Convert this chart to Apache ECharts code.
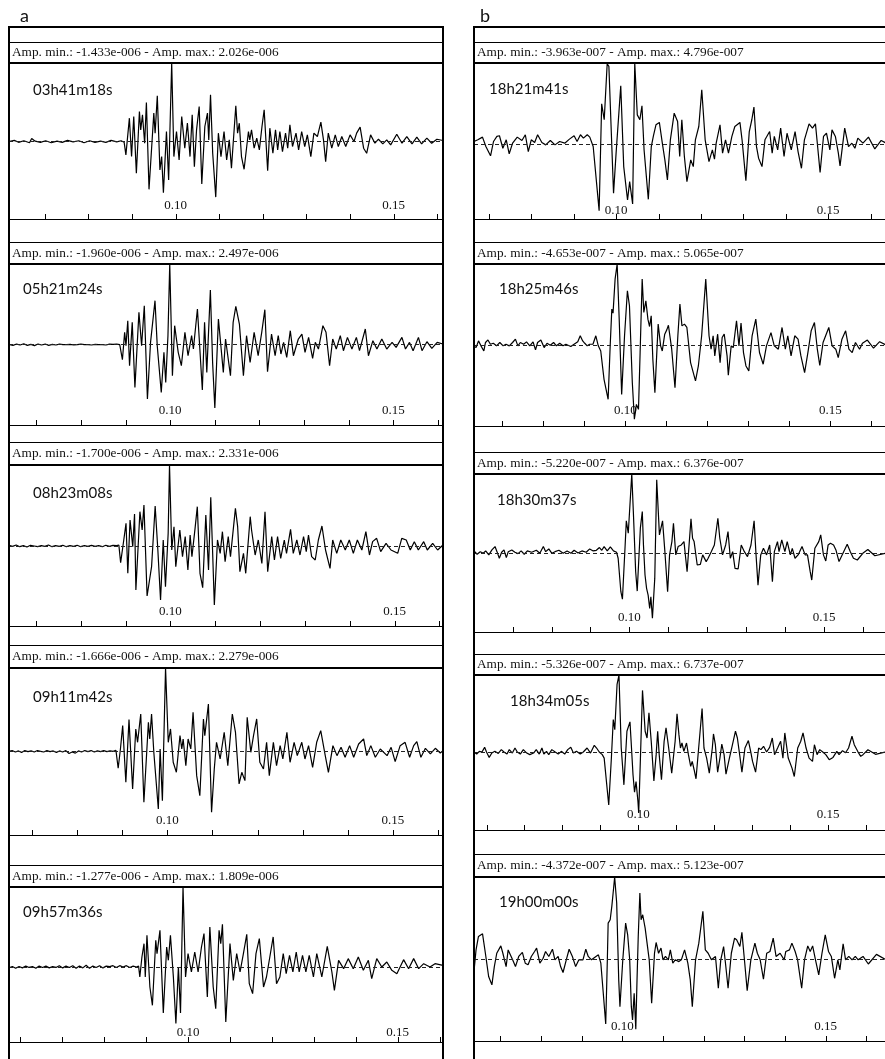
<!DOCTYPE html>
<html>
<head>
<meta charset="utf-8">
<script src="https://cdn.jsdelivr.net/npm/echarts@6/dist/echarts.min.js"></script>
<style>
  html, body { margin: 0; padding: 0; background: #fff; overflow: hidden; }
  #chart { width: 885px; height: 1059px; }
</style>
</head>
<body>
<div id="chart"></div>
<script>
// Amplitudes of the traces are stored in units of 1e-7; time in seconds.
const AMP_UNIT = 1e-7;

// ---- column a ----
const stampsA = ['03h41m18s', '05h21m24s', '08h23m08s', '09h11m42s', '09h57m36s'];
const ampMinA = [-1.433e-6, -1.960e-6, -1.700e-6, -1.666e-6, -1.277e-6];
const ampMaxA = [2.026e-6, 2.497e-6, 2.331e-6, 2.279e-6, 1.809e-6];
const timeMinA = [0.0618, 0.0639, 0.0640, 0.0649, 0.0573];
const timeMaxA = [0.1613, 0.1611, 0.1608, 0.1611, 0.1608];
const ampFloorA = [-19.98, -24.85, -23.02, -22.90, -16.96];

// ---- column b ----
const stampsB = ['18h21m41s', '18h25m46s', '18h30m37s', '18h34m05s', '19h00m00s'];
const ampMinB = [-3.963e-7, -4.653e-7, -5.220e-7, -5.326e-7, -4.372e-7];
const ampMaxB = [4.796e-7, 5.065e-7, 6.376e-7, 6.737e-7, 5.123e-7];
const timeMinB = [0.0665, 0.0631, 0.0601, 0.0567, 0.0635];
const timeMaxB = [0.1634, 0.1633, 0.1656, 0.1650, 0.1646];
const ampFloorB = [-4.457, -5.08, -6.33, -6.82, -5.10];

// time axis ticks
const tickValues = [0.06, 0.07, 0.08, 0.09, 0.10, 0.11, 0.12, 0.13, 0.14, 0.15, 0.16];
const tickLabelValues = [0.10, 0.15];

// ---- traces: [time, amplitude] ----
const w0341 = [[0.0618,0.0],[0.0630,0.3],[0.0640,-0.2],[0.0652,0.2],[0.0665,-0.3],[0.0670,0.8],[0.0678,0.1],[0.0690,-0.2],[0.0702,0.2],[0.0715,-0.3],[0.0728,0.1],[0.0740,-0.2],[0.0752,0.3],[0.0765,-0.1],[0.0778,0.2],[0.0790,-0.3],[0.0803,0.2],[0.0815,-0.2],[0.0828,0.1],[0.0840,-0.2],[0.0852,0.3],[0.0865,-0.1],[0.0875,0.2],[0.0882,-0.2],
[0.0886,-3.45],[0.0894,6.03],[0.0899,-3.88],[0.0904,6.47],[0.0910,-8.19],[0.0917,7.76],[0.0920,3.0],[0.0924,6.90],[0.0929,-0.43],[0.0933,10.09],[0.0939,-12.33],[0.0950,7.33],[0.0953,2.16],[0.0958,11.81],[0.0964,-7.33],[0.0968,-3.88],[0.0972,-13.19],[0.0979,2.59],[0.0984,-9.91],[0.0991,20.26],[0.0996,-3.88],[0.1002,2.59],[0.1008,-4.74],[0.1014,6.47],[0.1021,-1.72],[0.1027,4.74],[0.1033,-3.88],[0.1038,6.90],[0.1043,-6.47],[0.1048,3.02],[0.1054,9.05],[0.1060,-10.95],[0.1067,3.88],[0.1073,7.33],[0.1076,0.43],[0.1080,12.07],[0.1085,-3.02],[0.1092,-14.33],[0.1098,2.16],[0.1104,-3.88],[0.1111,2.59],[0.1117,-4.74],[0.1123,0.43],[0.1128,-6.90],[0.1138,9.22],[0.1142,2.16],[0.1146,4.74],[0.1151,-3.88],[0.1157,-7.15],[0.1167,2.59],[0.1170,0.43],[0.1174,3.02],[0.1180,-1.72],[0.1186,0.86],[0.1192,-2.16],[0.1198,3.88],[0.1203,8.19],[0.1211,-7.50],[0.1216,3.45],[0.1223,-3.02],[0.1229,3.02],[0.1234,-2.16],[0.1239,2.59],[0.1245,-2.59],[0.1252,2.16],[0.1257,-1.72],[0.1262,4.31],[0.1268,-1.29],[0.1276,2.16],[0.1282,-2.16],[0.1289,2.59],[0.1296,-1.29],[0.1302,1.72],[0.1310,-3.88],[0.1317,2.16],[0.1325,1.29],[0.1333,5.00],[0.1339,0.43],[0.1344,-5.17],[0.1350,2.16],[0.1358,-1.72],[0.1366,1.72],[0.1373,-1.29],[0.1381,1.29],[0.1390,-1.29],[0.1400,1.72],[0.1409,0],[0.1415,2.16],[0.1423,3.71],[0.1431,-1.72],[0.1438,-3.02],[0.1447,1.72],[0.1457,-0.43],[0.1465,0.6],[0.1475,-0.6],[0.1484,0.43],[0.1493,-0.86],[0.1507,1.9],[0.1519,-0.43],[0.1530,1.29],[0.1542,-0.6],[0.1553,1.12],[0.1564,-0.6],[0.1576,0.86],[0.1587,-0.43],[0.1599,0.6],[0.1613,0.26]];

const w0521 = [[0.0639,0.1],[0.0648,-0.2],[0.0656,0.2],[0.0664,-0.1],[0.0672,0.3],[0.0680,-0.2],[0.0688,0.1],[0.0696,-0.3],[0.0704,0.2],[0.0712,-0.1],[0.0720,0.2],[0.0728,-0.2],[0.0736,0.1],[0.0744,-0.1],[0.0752,0.2],[0.0760,0],[0.0768,0],[0.0776,0.1],[0.0784,-0.1],[0.0792,0],[0.0800,0.2],[0.0808,0],[0.0816,0],[0.0824,-0.1],[0.0832,0.1],[0.0840,0],[0.0848,0],[0.0856,-0.1],[0.0864,0.2],[0.0872,0.1],[0.0880,0.2],[0.0887,0],
[0.0893,-4.64],[0.0898,3.82],[0.0901,-0.31],[0.0905,7.43],[0.0909,-6.50],[0.0915,6.91],[0.0921,-13.21],[0.0930,10.01],[0.0936,-0.31],[0.0942,12.07],[0.0949,-16.82],[0.0956,0.72],[0.0966,13.62],[0.0971,-0.31],[0.0980,-14.76],[0.0986,-2.37],[0.0990,-11.66],[0.0995,2.79],[0.0999,24.97],[0.1005,-9.60],[0.1010,5.88],[0.1018,-2.37],[0.1025,-6.50],[0.1033,3.82],[0.1040,-3.41],[0.1048,2.79],[0.1052,-1.34],[0.1061,11.04],[0.1072,-14.04],[0.1077,6.91],[0.1082,-8.57],[0.1090,16.92],[0.1095,-5.47],[0.1100,-19.60],[0.1108,7.95],[0.1119,-8.57],[0.1124,1.75],[0.1135,-9.60],[0.1141,6.91],[0.1147,11.87],[0.1155,6.40],[0.1164,-9.60],[0.1171,2.79],[0.1179,-5.47],[0.1188,3.82],[0.1197,-3.41],[0.1205,3.82],[0.1212,10.84],[0.1218,-8.36],[0.1227,3.30],[0.1235,-3.41],[0.1242,2.79],[0.1248,-2.89],[0.1254,0.72],[0.1261,-3.92],[0.1269,4.33],[0.1276,-3.41],[0.1287,1.75],[0.1295,3.30],[0.1302,-2.37],[0.1310,2.27],[0.1319,-4.23],[0.1325,0.72],[0.1332,-1.34],[0.1342,5.88],[0.1349,3.82],[0.1357,-6.50],[0.1364,1.75],[0.1372,-1.34],[0.1381,2.79],[0.1388,-1.86],[0.1397,2.27],[0.1407,-1.34],[0.1417,2.27],[0.1424,-1.86],[0.1437,4.85],[0.1444,-3.41],[0.1454,1.24],[0.1463,-1.34],[0.1474,1.75],[0.1485,-1.34],[0.1497,0.72],[0.1506,-0.83],[0.1519,2.27],[0.1527,-1.34],[0.1536,0.72],[0.1544,-1.86],[0.1556,2.27],[0.1564,-1.86],[0.1575,0.93],[0.1586,-1.14],[0.1598,0.72],[0.1611,0.21]];

const w0823 = [[0.0640,0.2],[0.0648,-0.1],[0.0656,0.3],[0.0664,-0.2],[0.0672,0.1],[0.0680,-0.3],[0.0688,0.2],[0.0696,0],[0.0704,-0.2],[0.0712,0.1],[0.0720,-0.1],[0.0728,0.3],[0.0736,-0.2],[0.0744,0.1],[0.0752,-0.1],[0.0760,0.2],[0.0768,-0.2],[0.0776,0.1],[0.0784,-0.1],[0.0792,0.2],[0.0800,-0.2],[0.0808,0.1],[0.0816,-0.1],[0.0824,0.2],[0.0832,-0.1],[0.0840,0.1],[0.0848,-0.2],[0.0856,0.2],[0.0864,-0.1],[0.0872,0.2],[0.0880,0.1],[0.0885,0.3],
[0.0889,-4.80],[0.0896,1.73],[0.0901,6.52],[0.0905,-7.86],[0.0910,7.48],[0.0916,-0.19],[0.0920,9.21],[0.0923,-12.66],[0.0932,9.88],[0.0937,4.60],[0.0941,11.80],[0.0948,-14.39],[0.0958,-5.95],[0.0966,11.51],[0.0972,-1.15],[0.0978,-15.54],[0.0984,1.73],[0.0989,-11.70],[0.0995,3.64],[0.0998,23.31],[0.1003,-1.15],[0.1008,5.56],[0.1012,-5.95],[0.1021,4.60],[0.1027,-3.07],[0.1033,2.69],[0.1039,-6.90],[0.1044,3.16],[0.1048,-3.07],[0.1055,5.08],[0.1060,11.32],[0.1066,-7.86],[0.1072,-11.99],[0.1079,8.92],[0.1085,-6.90],[0.1090,14.00],[0.1094,-1.15],[0.1098,-17.00],[0.1105,1.73],[0.1111,-2.11],[0.1116,4.12],[0.1122,-4.51],[0.1129,2.69],[0.1134,-3.07],[0.1145,10.84],[0.1150,5.56],[0.1155,-7.38],[0.1163,-2.11],[0.1168,-7.86],[0.1178,8.44],[0.1181,4.60],[0.1189,-2.59],[0.1196,1.73],[0.1204,-4.99],[0.1211,9.88],[0.1217,-7.38],[0.1226,2.69],[0.1232,-4.03],[0.1239,2.69],[0.1246,-3.55],[0.1254,1.73],[0.1259,-2.11],[0.1268,4.80],[0.1274,-2.11],[0.1282,1.73],[0.1289,-2.59],[0.1297,2.69],[0.1303,-1.63],[0.1308,3.16],[0.1315,-3.07],[0.1323,-4.03],[0.1330,1.73],[0.1338,5.75],[0.1346,-1.15],[0.1356,-6.43],[0.1362,1.73],[0.1371,-2.11],[0.1380,1.73],[0.1390,-1.15],[0.1399,1.73],[0.1408,-2.11],[0.1417,1.73],[0.1427,-1.15],[0.1436,4.12],[0.1444,-2.59],[0.1451,1.25],[0.1460,2.21],[0.1469,-1.63],[0.1481,0.77],[0.1492,-1.15],[0.1507,-2.11],[0.1516,2.21],[0.1526,1.73],[0.1535,-1.15],[0.1544,1.25],[0.1553,-1.15],[0.1565,1.25],[0.1573,-1.15],[0.1585,0.77],[0.1596,-1.15],[0.1608,0.29]];

const w0911 = [[0.0649,0],[0.0656,0.2],[0.0663,-0.2],[0.0670,0.1],[0.0677,-0.3],[0.0684,0.2],[0.0691,-0.1],[0.0698,0.1],[0.0705,-0.2],[0.0712,0.2],[0.0719,0],[0.0726,-0.2],[0.0733,0.2],[0.0740,-0.1],[0.0747,0.1],[0.0754,-0.3],[0.0761,0.1],[0.0768,-0.2],[0.0775,0.2],[0.0782,-0.6],[0.0789,-0.2],[0.0796,-0.5],[0.0803,0.1],[0.0810,-0.2],[0.0817,0.2],[0.0824,-0.1],[0.0831,0.2],[0.0838,-0.2],[0.0845,0.1],[0.0852,-0.1],[0.0859,0.2],[0.0866,-0.1],[0.0873,0.1],[0.0880,0],[0.0886,0.3],
[0.0891,-4.65],[0.0896,0.64],[0.0901,7.02],[0.0908,-8.48],[0.0915,8.66],[0.0923,-10.31],[0.0930,6.11],[0.0934,2.46],[0.0941,10.21],[0.0948,-13.95],[0.0958,7.93],[0.0961,3.37],[0.0965,10.21],[0.0970,-0.27],[0.0980,-15.78],[0.0984,0.64],[0.0989,-13.50],[0.0996,22.79],[0.1002,2.46],[0.1007,6.11],[0.1013,-3.01],[0.1020,-5.75],[0.1028,4.29],[0.1032,0.64],[0.1035,3.37],[0.1041,-3.92],[0.1046,3.37],[0.1052,0.64],[0.1057,10.67],[0.1065,-6.66],[0.1072,-12.13],[0.1080,8.85],[0.1083,4.29],[0.1091,12.95],[0.1098,-16.66],[0.1104,-4.83],[0.1109,2.46],[0.1117,-2.10],[0.1126,5.20],[0.1134,-3.92],[0.1144,10.21],[0.1151,5.20],[0.1159,-8.94],[0.1165,-5.75],[0.1172,-8.03],[0.1177,9.30],[0.1185,-0.27],[0.1191,4.29],[0.1198,8.85],[0.1205,-3.01],[0.1213,-4.83],[0.1220,2.46],[0.1226,-6.66],[0.1235,2.46],[0.1242,-3.92],[0.1250,1.55],[0.1256,-2.10],[0.1265,5.20],[0.1272,-3.01],[0.1281,2.46],[0.1288,-1.19],[0.1298,2.46],[0.1305,-2.10],[0.1313,1.55],[0.1322,-4.38],[0.1331,2.46],[0.1340,5.65],[0.1350,-1.19],[0.1357,-5.75],[0.1367,1.55],[0.1376,-1.19],[0.1385,1.09],[0.1394,-1.64],[0.1404,1.55],[0.1413,-1.64],[0.1424,2.01],[0.1435,3.37],[0.1442,-1.19],[0.1451,1.55],[0.1461,-1.64],[0.1472,0.64],[0.1487,-1.19],[0.1496,1.09],[0.1505,-2.83],[0.1516,1.55],[0.1527,2.46],[0.1537,-1.64],[0.1546,1.55],[0.1553,2.64],[0.1562,-1.64],[0.1572,0.82],[0.1583,-0.73],[0.1594,0.82],[0.1605,-0.46],[0.1611,0.18]];

const w0957 = [[0.0573,-0.2],[0.0581,0.1],[0.0589,-0.3],[0.0597,0.1],[0.0605,-0.2],[0.0613,0.2],[0.0621,-0.1],[0.0629,0.1],[0.0637,-0.3],[0.0645,0.2],[0.0653,-0.1],[0.0661,0.2],[0.0669,-0.2],[0.0677,0.1],[0.0685,-0.1],[0.0693,0.3],[0.0701,-0.2],[0.0709,0.2],[0.0717,-0.1],[0.0725,0.3],[0.0733,-0.3],[0.0741,0.2],[0.0749,-0.2],[0.0757,0.4],[0.0765,-0.3],[0.0773,0.2],[0.0781,-0.1],[0.0789,0.3],[0.0797,-0.2],[0.0805,0.2],[0.0813,0.1],[0.0821,0.3],[0.0829,-0.1],[0.0837,0.3],[0.0845,0],[0.0853,0.3],[0.0861,-0.1],[0.0869,0.2],[0.0877,0],[0.0882,0.2],
[0.0885,-2.26],[0.0890,2.26],[0.0895,5.28],[0.0898,-2.26],[0.0902,7.16],[0.0909,-4.52],[0.0915,-8.67],[0.0923,6.03],[0.0926,3.02],[0.0933,8.29],[0.0941,-10.41],[0.0949,4.52],[0.0953,1.51],[0.0958,7.16],[0.0965,-2.26],[0.0971,-12.77],[0.0977,0],[0.0982,-10.41],[0.0988,18.09],[0.0994,-2.26],[0.1000,3.02],[0.1008,-1.13],[0.1016,3.39],[0.1024,-1.13],[0.1032,4.52],[0.1038,7.54],[0.1046,-6.79],[0.1052,9.05],[0.1060,-4.52],[0.1066,-9.43],[0.1074,8.29],[0.1078,5.28],[0.1082,9.65],[0.1090,-12.44],[0.1100,5.28],[0.1108,-3.02],[0.1116,3.02],[0.1124,-1.13],[0.1132,3.02],[0.1140,7.39],[0.1146,-3.77],[0.1154,-6.03],[0.1162,3.02],[0.1170,6.41],[0.1180,-4.52],[0.1187,-2.26],[0.1195,2.26],[0.1203,6.79],[0.1211,-3.77],[0.1219,-2.26],[0.1227,3.02],[0.1234,-1.51],[0.1242,2.64],[0.1250,-1.13],[0.1258,3.39],[0.1265,-1.13],[0.1273,2.64],[0.1281,-1.13],[0.1289,2.64],[0.1299,-2.26],[0.1307,3.02],[0.1319,-2.26],[0.1332,4.67],[0.1343,-1.13],[0.1349,-5.28],[0.1359,1.51],[0.1371,-0.38],[0.1382,1.89],[0.1394,-0.38],[0.1406,2.26],[0.1418,-0.75],[0.1430,1.51],[0.1438,-2.64],[0.1450,1.89],[0.1462,0],[0.1474,1.13],[0.1486,-0.75],[0.1498,-1.51],[0.1514,1.66],[0.1526,-0.38],[0.1538,1.89],[0.1550,-0.38],[0.1562,0.75],[0.1577,0],[0.1589,0.75],[0.1608,0.38]];

const w1821 = [[0.0665,0.14],[0.0674,0.24],[0.0685,0.40],[0.0693,-0.16],[0.0704,-0.71],[0.0711,0.14],[0.0719,0.44],[0.0725,0.48],[0.0733,-0.26],[0.0741,0.24],[0.0748,-0.59],[0.0756,0.04],[0.0767,0.40],[0.0778,0.20],[0.0786,0.54],[0.0793,-0.46],[0.0800,0.24],[0.0808,0.08],[0.0815,0.54],[0.0825,0.08],[0.0834,-0.06],[0.0845,0.20],[0.0856,-0.06],[0.0867,0.14],[0.0879,0.04],[0.0890,0.28],[0.0901,0.48],[0.0908,0.14],[0.0916,0.54],[0.0923,0.34],[0.0932,0.54],[0.0938,0.40],
[0.0946,-0.16],[0.0960,-3.963],[0.0966,2.38],[0.0972,1.43],[0.0979,4.75],[0.0983,4.60],[0.0994,-2.93],[0.1000,-0.55],[0.1011,3.45],[0.1018,-1.35],[0.1027,-3.33],[0.1032,-2.24],[0.1039,-3.57],[0.1044,4.796],[0.1050,1.72],[0.1056,1.43],[0.1061,2.26],[0.1066,-0.36],[0.1076,-3.29],[0.1083,-0.16],[0.1088,0.48],[0.1094,1.13],[0.1102,1.27],[0.1109,0.04],[0.1115,-0.95],[0.1121,-2.14],[0.1128,0.24],[0.1137,1.82],[0.1145,1.33],[0.1150,-0.75],[0.1155,1.43],[0.1161,-0.75],[0.1167,-2.24],[0.1176,-0.95],[0.1182,-1.35],[0.1187,0.24],[0.1195,1.03],[0.1202,3.21],[0.1210,0.24],[0.1219,-1.05],[0.1227,-0.36],[0.1232,-0.91],[0.1236,0.04],[0.1245,1.13],[0.1251,-0.55],[0.1258,0.24],[0.1265,-0.55],[0.1273,0.44],[0.1280,1.03],[0.1292,1.27],[0.1297,0.24],[0.1306,-2.18],[0.1314,0.73],[0.1320,1.43],[0.1325,2.18],[0.1331,-0.16],[0.1336,-0.85],[0.1344,-1.35],[0.1351,0.24],[0.1362,0.73],[0.1368,-0.55],[0.1373,0.44],[0.1381,-0.36],[0.1388,0.93],[0.1396,-0.75],[0.1403,0.63],[0.1413,-0.36],[0.1422,0.73],[0.1429,-0.46],[0.1437,-1.45],[0.1444,0.24],[0.1455,1.19],[0.1463,0.93],[0.1470,1.19],[0.1477,-0.65],[0.1481,-1.70],[0.1489,0.44],[0.1496,0.63],[0.1504,-0.36],[0.1509,0.83],[0.1517,0.44],[0.1524,-0.55],[0.1528,-1.31],[0.1539,0.93],[0.1548,-0.16],[0.1556,0.04],[0.1563,-0.26],[0.1570,0.34],[0.1582,0.04],[0.1595,0.4],[0.1610,-0.3],[0.1625,0.2],[0.1640,0]];

const w1825 = [[0.0631,-0.06],[0.0636,-0.17],[0.0642,0.25],[0.0648,-0.06],[0.0655,-0.38],[0.0659,0.15],[0.0665,0.31],[0.0671,0.04],[0.0678,0.10],[0.0686,-0.06],[0.0694,0.15],[0.0702,-0.06],[0.0709,0.04],[0.0717,-0.06],[0.0725,0.15],[0.0732,0.36],[0.0738,-0.06],[0.0744,0.15],[0.0752,0.04],[0.0759,0.19],[0.0767,-0.06],[0.0775,0.19],[0.0781,-0.31],[0.0786,0.15],[0.0794,0.31],[0.0802,-0.17],[0.0809,0.10],[0.0817,-0.02],[0.0825,0.15],[0.0832,-0.06],[0.0840,0.10],[0.0848,-0.06],[0.0855,0.04],[0.0867,-0.10],[0.0875,0.04],[0.0884,0.19],[0.0890,0.57],[0.0896,0.25],[0.0901,0.10],[0.0907,-0.06],[0.0913,0.04],[0.0921,0.04],[0.0928,0.57],[0.0934,-0.06],
[0.0940,-0.38],[0.0948,-2.16],[0.0958,-3.41],[0.0963,-0.06],[0.0967,2.24],[0.0970,1.99],[0.0975,4.12],[0.0980,5.065],[0.0985,1.61],[0.0991,-3.10],[0.0998,0.57],[0.1005,3.39],[0.1010,2.45],[0.1017,-2.37],[0.1022,-4.653],[0.1027,-3.73],[0.1032,-4.04],[0.1036,-0.48],[0.1041,4.12],[0.1045,2.03],[0.1050,2.76],[0.1055,1.61],[0.1059,1.15],[0.1063,1.82],[0.1067,-0.90],[0.1072,-2.99],[0.1080,1.30],[0.1086,-0.06],[0.1090,-0.38],[0.1096,0.67],[0.1101,0.94],[0.1105,1.23],[0.1113,-0.27],[0.1121,-2.68],[0.1128,0.57],[0.1133,2.55],[0.1138,1.19],[0.1144,1.30],[0.1150,1.09],[0.1159,-1.11],[0.1171,-2.26],[0.1178,-1.32],[0.1186,0.57],[0.1196,4.12],[0.1204,0.57],[0.1209,-0.27],[0.1214,0.57],[0.1218,-0.69],[0.1225,0.67],[0.1231,-1.11],[0.1236,0.46],[0.1241,0.67],[0.1248,-0.69],[0.1251,-1.90],[0.1258,-0.06],[0.1263,-0.17],[0.1271,1.51],[0.1277,-0.06],[0.1282,1.36],[0.1288,-0.48],[0.1294,-1.32],[0.1301,-1.63],[0.1309,0.57],[0.1318,1.61],[0.1327,-0.48],[0.1336,-1.21],[0.1344,-0.06],[0.1355,0.77],[0.1363,-0.06],[0.1373,-0.27],[0.1382,1.09],[0.1390,-0.27],[0.1396,0.57],[0.1404,-0.69],[0.1413,0.57],[0.1421,0.36],[0.1428,-0.69],[0.1437,-1.74],[0.1445,-0.48],[0.1453,0.88],[0.1461,1.40],[0.1468,-0.27],[0.1474,-1.28],[0.1482,0.15],[0.1496,1.09],[0.1504,-0.06],[0.1513,-0.27],[0.1519,-0.80],[0.1528,0.36],[0.1537,0.88],[0.1545,-0.27],[0.1553,-0.48],[0.1561,0.15],[0.1571,-0.27],[0.1578,0.10],[0.1590,0.3],[0.1605,-0.2],[0.1620,0.2],[0.1635,0]];

const w1830 = [[0.0601,0.19],[0.0609,-0.08],[0.0617,0.13],[0.0625,0],[0.0631,0.19],[0.0639,-0.13],[0.0647,0.27],[0.0655,0.54],[0.0660,0.13],[0.0666,-0.40],[0.0672,0.08],[0.0678,0.27],[0.0684,-0.35],[0.0689,0.13],[0.0698,0.27],[0.0706,0.08],[0.0714,-0.03],[0.0722,0.19],[0.0730,-0.08],[0.0738,0.19],[0.0749,0.08],[0.0761,0.24],[0.0770,0],[0.0779,0.54],[0.0785,0.13],[0.0793,0.35],[0.0801,0],[0.0809,0.13],[0.0819,0.24],[0.0830,0],[0.0840,0.19],[0.0850,0],[0.0858,0.24],[0.0868,0.03],[0.0878,0.19],[0.0889,0.08],[0.0898,0.35],[0.0907,0.19],[0.0915,0.24],[0.0923,0.46],[0.0929,0.24],[0.0935,0.54],[0.0943,0.19],[0.0951,0.51],[0.0959,0.19],[0.0967,0.08],
[0.0971,-0.40],[0.0978,-3.09],[0.0982,-3.69],[0.0989,0.67],[0.0992,2.61],[0.0997,1.61],[0.1006,6.376],[0.1010,3.36],[0.1016,-1.48],[0.1020,-3.04],[0.1028,2.02],[0.1033,3.36],[0.1036,0.67],[0.1040,-1.75],[0.1044,-2.82],[0.1048,-3.36],[0.1052,-4.44],[0.1055,-3.50],[0.1059,-5.220],[0.1065,-2.02],[0.1070,5.92],[0.1077,1.48],[0.1081,1.48],[0.1085,2.61],[0.1091,0.13],[0.1098,-3.09],[0.1103,-0.13],[0.1109,0.94],[0.1113,2.42],[0.1119,-0.13],[0.1125,0.54],[0.1133,0.67],[0.1140,0.94],[0.1148,-1.48],[0.1158,2.77],[0.1162,1.21],[0.1166,0.94],[0.1174,-0.94],[0.1182,-0.89],[0.1188,-0.13],[0.1197,-0.67],[0.1202,-0.40],[0.1210,0.13],[0.1218,0.67],[0.1227,2.82],[0.1232,1.21],[0.1239,-0.13],[0.1247,0.67],[0.1253,1.75],[0.1259,-0.40],[0.1265,0.13],[0.1271,-1.21],[0.1279,-1.26],[0.1287,0.67],[0.1295,0.13],[0.1303,-0.27],[0.1312,0.67],[0.1320,2.61],[0.1325,-0.13],[0.1330,-2.56],[0.1337,-0.13],[0.1344,0.40],[0.1352,-0.13],[0.1360,0.67],[0.1367,-2.29],[0.1372,0.13],[0.1380,0.94],[0.1384,0.13],[0.1391,1.08],[0.1399,0.13],[0.1405,0.94],[0.1413,-0.13],[0.1418,0.40],[0.1425,-0.40],[0.1433,-0.13],[0.1443,0.54],[0.1451,-0.13],[0.1457,-0.13],[0.1464,-1.48],[0.1468,-2.15],[0.1476,0.40],[0.1486,0.94],[0.1491,1.48],[0.1498,-0.13],[0.1504,-0.62],[0.1510,0.67],[0.1516,0.81],[0.1524,0.67],[0.1530,0.27],[0.1538,-0.67],[0.1546,-0.13],[0.1559,0.73],[0.1567,0.13],[0.1575,-0.40],[0.1585,-0.54],[0.1599,0],[0.1612,0.3],[0.1630,-0.2],[0.1656,0]];

const w1834 = [[0.0567,0],[0.0574,-0.18],[0.0581,0.06],[0.0588,0],[0.0595,0.41],[0.0600,0],[0.0607,-0.47],[0.0614,-0.09],[0.0622,0.06],[0.0631,-0.12],[0.0639,0.21],[0.0646,0],[0.0654,-0.18],[0.0660,0.21],[0.0668,-0.09],[0.0675,0.35],[0.0681,0],[0.0689,-0.18],[0.0697,0.21],[0.0706,-0.09],[0.0714,-0.23],[0.0724,-0.09],[0.0731,0.21],[0.0739,-0.18],[0.0746,0.35],[0.0751,-0.18],[0.0758,0.06],[0.0764,-0.23],[0.0772,0.21],[0.0781,0],[0.0789,-0.18],[0.0797,0.06],[0.0806,-0.18],[0.0814,0.21],[0.0822,0.41],[0.0829,-0.09],[0.0837,0.06],[0.0847,-0.18],[0.0855,0],[0.0865,0.35],[0.0874,-0.09],[0.0884,0.59],[0.0890,0.35],[0.0897,0],[0.0905,-0.23],
[0.0910,-0.53],[0.0922,-4.63],[0.0929,-0.53],[0.0934,2.84],[0.0938,1.96],[0.0944,5.92],[0.0949,6.737],[0.0955,0.35],[0.0962,-2.87],[0.0970,1.82],[0.0978,2.64],[0.0981,0.94],[0.0986,-1.99],[0.0990,-3.51],[0.0994,-2.58],[0.0999,-4.33],[0.1001,-5.326],[0.1005,-1.11],[0.1011,5.39],[0.1018,1.82],[0.1023,1.23],[0.1028,3.43],[0.1034,0.94],[0.1041,-2.52],[0.1047,-0.23],[0.1051,1.82],[0.1055,-0.23],[0.1061,-2.43],[0.1068,0.94],[0.1073,2.11],[0.1080,0.35],[0.1088,-1.85],[0.1097,0.94],[0.1102,3.34],[0.1107,1.52],[0.1111,0.35],[0.1115,0.79],[0.1120,0.06],[0.1127,0.79],[0.1132,-0.23],[0.1138,-1.26],[0.1142,-0.82],[0.1147,-1.55],[0.1152,-2.34],[0.1159,0.35],[0.1168,3.81],[0.1173,0.35],[0.1180,-0.53],[0.1187,-1.85],[0.1195,0.35],[0.1198,1.58],[0.1203,0.64],[0.1209,-1.76],[0.1215,-0.53],[0.1220,0.70],[0.1226,-0.23],[0.1231,-1.93],[0.1240,-0.53],[0.1246,0.35],[0.1256,1.82],[0.1261,1.23],[0.1267,-0.23],[0.1273,-1.76],[0.1281,0.35],[0.1290,1.00],[0.1296,0.06],[0.1301,-0.82],[0.1309,-1.76],[0.1317,0.35],[0.1323,0.21],[0.1330,0.50],[0.1338,0],[0.1346,0.41],[0.1353,1.23],[0.1359,-0.23],[0.1367,0.35],[0.1375,0.94],[0.1381,-0.53],[0.1386,1.67],[0.1395,-0.53],[0.1405,-1.41],[0.1411,-2.14],[0.1420,0.35],[0.1428,0.94],[0.1434,1.67],[0.1442,0.35],[0.1450,-0.53],[0.1459,-0.82],[0.1464,0.64],[0.1471,-0.23],[0.1478,0.21],[0.1486,0],[0.1494,-0.23],[0.1503,-0.67],[0.1513,-0.47],[0.1523,0.06],[0.1529,-0.23],[0.1538,0.12],[0.1546,-0.06],[0.1554,0.35],[0.1563,1.38],[0.1569,0.64],[0.1578,0.06],[0.1586,-0.38],[0.1592,-0.23],[0.1605,0.2],[0.1625,-0.2],[0.1650,0]];

const w1900 = [[0.0635,-0.77],[0.0640,0.58],[0.0646,1.42],[0.0656,1.58],[0.0663,0.37],[0.0671,-1.08],[0.0679,-1.60],[0.0685,-0.46],[0.0691,0.37],[0.0701,0.83],[0.0706,0.37],[0.0714,-0.46],[0.0719,0.58],[0.0730,-0.04],[0.0737,-0.46],[0.0745,0.17],[0.0754,0.42],[0.0761,-0.25],[0.0768,-0.35],[0.0776,0.17],[0.0784,0.48],[0.0789,0.69],[0.0797,-0.25],[0.0805,0.06],[0.0811,0.48],[0.0819,0.17],[0.0828,0.62],[0.0834,-0.04],[0.0842,0.17],[0.0848,-0.46],[0.0854,-0.83],[0.0862,-0.04],[0.0869,0.62],[0.0877,0.17],[0.0885,-0.46],[0.0893,-0.04],[0.0903,-0.04],[0.0910,0.62],[0.0916,0.17],[0.0924,-0.04],[0.0935,0.17],[0.0941,0.27],
[0.0947,-0.25],[0.0953,-2.12],[0.0959,-4.04],[0.0963,-0.04],[0.0965,2.25],[0.0970,2.46],[0.0974,3.29],[0.0978,4.33],[0.0981,5.123],[0.0986,3.50],[0.0991,-1.29],[0.0994,-2.96],[0.1001,-0.04],[0.1008,2.25],[0.1013,1.52],[0.1018,-0.04],[0.1022,-2.96],[0.1025,-3.79],[0.1029,-2.12],[0.1033,-4.372],[0.1036,-1.29],[0.1039,1.42],[0.1043,4.12],[0.1046,2.46],[0.1050,2.77],[0.1056,1.94],[0.1060,2.04],[0.1066,-0.04],[0.1072,-2.75],[0.1079,0.37],[0.1083,1.04],[0.1089,0.37],[0.1095,0.69],[0.1100,-0.04],[0.1106,0.17],[0.1113,-0.04],[0.1118,0.58],[0.1124,-0.25],[0.1130,-0.04],[0.1139,-0.15],[0.1145,-0.04],[0.1153,0.58],[0.1161,-0.25],[0.1167,-1.29],[0.1172,-2.96],[0.1180,-0.04],[0.1188,1.00],[0.1198,2.98],[0.1204,0.58],[0.1211,0.37],[0.1219,-0.04],[0.1229,0.17],[0.1236,-1.81],[0.1242,-0.04],[0.1249,0.79],[0.1254,-0.35],[0.1260,-1.81],[0.1268,0.37],[0.1276,1.31],[0.1281,1.21],[0.1289,0.79],[0.1294,1.67],[0.1301,-0.25],[0.1307,-1.96],[0.1316,-0.04],[0.1326,1.00],[0.1332,0.37],[0.1339,-0.04],[0.1347,-1.25],[0.1355,0.37],[0.1363,0.48],[0.1371,1.31],[0.1378,0.17],[0.1388,0.37],[0.1398,-0.04],[0.1402,0.48],[0.1411,0.58],[0.1417,1.00],[0.1425,0.48],[0.1431,-0.04],[0.1441,-1.81],[0.1448,-0.04],[0.1456,0.83],[0.1462,0.48],[0.1468,0.83],[0.1475,-0.04],[0.1483,-0.98],[0.1491,0.37],[0.1499,1.52],[0.1507,0.48],[0.1514,0.17],[0.1522,-1.19],[0.1530,-0.04],[0.1535,-0.67],[0.1543,0.96],[0.1549,-0.04],[0.1557,0.17],[0.1565,-0.04],[0.1573,0.17],[0.1580,-0.04],[0.1592,0.17],[0.1605,-0.3],[0.1625,0.3],[0.1646,0]];

const tracesA = [w0341, w0521, w0823, w0911, w0957];
const tracesB = [w1821, w1825, w1830, w1834, w1900];

// ---- page layout (pixels) ----
const COLS = [
  { x: 9, w: 434, header: [42, 242, 442, 645, 865], top: [63, 264, 465, 668, 887], bottom: [219, 425, 626, 835, 1042],
    stamp: [[33, 90], [23, 289], [33, 493], [33, 697], [23, 912]], labelGap: [13, 14, 14, 14, 9], rightEdge: true },
  { x: 474, w: 434, header: [42, 242, 452, 654, 854], top: [63, 264, 474, 675, 877], bottom: [219, 426, 632, 830, 1041],
    stamp: [[489, 89], [499, 289], [497, 500], [510, 701], [499, 902]], labelGap: [8, 15, 14, 15, 14], rightEdge: false }
];
const FRAME_TOP = 26;
const PAGE_H = 1059;
const PAGE_W = 885;

function fmtAmp(v) {
  const parts = v.toExponential(3).split('e');
  const exp = parts[1];
  const sign = exp[0] === '-' ? '-' : '+';
  const digits = exp.replace(/^[-+]/, '').padStart(3, '0');
  return parts[0] + 'e' + sign + digits;
}

const columnsData = [
  { stamps: stampsA, ampMin: ampMinA, ampMax: ampMaxA, tMin: timeMinA, tMax: timeMaxA, floor: ampFloorA, traces: tracesA },
  { stamps: stampsB, ampMin: ampMinB, ampMax: ampMaxB, tMin: timeMinB, tMax: timeMaxB, floor: ampFloorB, traces: tracesB }
];

const grid = [], xAxis = [], yAxis = [], series = [], graphic = [];
const SERIF = '"Liberation Serif", "Times New Roman", serif';
const SANS = 'Lato, "Open Sans", sans-serif';

function rect(x, y, w, h) {
  return { type: 'rect', z: 100, silent: true, shape: { x: x, y: y, width: w, height: h }, style: { fill: '#000' } };
}
function text(str, x, y, font, align) {
  return { type: 'text', z: 100, silent: true, x: x, y: y,
    style: { text: str, font: font, fill: '#111', textAlign: align || 'left', textVerticalAlign: 'middle', align: align || 'left', verticalAlign: 'middle' } };
}

let idx = 0;
COLS.forEach(function (col, c) {
  const d = columnsData[c];
  const colRight = Math.min(col.x + col.w, PAGE_W);
  // outer frame
  graphic.push(rect(col.x - 1, FRAME_TOP, colRight - col.x + 1, 2));
  graphic.push(rect(col.x - 1, FRAME_TOP, 2, PAGE_H - FRAME_TOP));
  if (col.rightEdge) graphic.push(rect(col.x + col.w - 1, FRAME_TOP, 2, PAGE_H - FRAME_TOP));
  for (let p = 0; p < 5; p++) {
    const top = col.top[p], bottom = col.bottom[p];
    const yMax = d.ampMax[p] / AMP_UNIT;
    const yMin = d.floor[p];
    const gap = col.labelGap[p];
    grid.push({ left: col.x, top: top, width: col.w, height: bottom - top, containLabel: false });
    xAxis.push({ type: 'value', gridIndex: idx, min: d.tMin[p], max: d.tMax[p],
      axisLine: { show: true, onZero: false, lineStyle: { color: '#000', width: 1 } },
      axisTick: { show: false }, axisLabel: { show: false }, splitLine: { show: false } });
    yAxis.push({ type: 'value', gridIndex: idx, min: yMin, max: yMax, show: false, splitLine: { show: false } });
    series.push({
      type: 'line', xAxisIndex: idx, yAxisIndex: idx, data: d.traces[p],
      showSymbol: false, symbol: 'none', silent: true, clip: true,
      lineStyle: { color: '#000', width: 1.2 },
      markLine: { silent: true, symbol: 'none', label: { show: false },
        lineStyle: { color: '#222', width: 1, type: [4, 3] }, data: [{ yAxis: 0 }] }
    });
    series.push({
      type: 'custom', xAxisIndex: idx, yAxisIndex: idx, silent: true, clip: false,
      data: tickValues.filter(function (v) { return v >= d.tMin[p] && v <= d.tMax[p]; }).map(function (v) { return [v, yMin]; }),
      renderItem: function (params, api) {
        const v = api.value(0);
        const pt = api.coord([v, api.value(1)]);
        const x = Math.round(pt[0]) + 0.5;
        const y = Math.round(pt[1]);
        const children = [{ type: 'line', shape: { x1: x, y1: y - 5, x2: x, y2: y }, style: { stroke: '#000', lineWidth: 1 } }];
        if (tickLabelValues.some(function (t) { return Math.abs(t - v) < 1e-9; })) {
          children.push({ type: 'text', style: { text: v.toFixed(2), x: pt[0], y: y - gap, font: '13px ' + SERIF, fill: '#111',
            textAlign: 'center', textVerticalAlign: 'middle', align: 'center', verticalAlign: 'middle' } });
        }
        return { type: 'group', children: children };
      }
    });
    // header strip and plot frame
    graphic.push(rect(col.x, col.header[p], colRight - col.x, 1));
    graphic.push(rect(col.x, top - 1, colRight - col.x, 2));
    graphic.push(text('Amp. min.: ' + fmtAmp(d.ampMin[p]) + ' - Amp. max.: ' + fmtAmp(d.ampMax[p]),
      col.x + 3, (col.header[p] + top) / 2 + 0.5, '13.3px ' + SERIF));
    graphic.push(text(d.stamps[p], col.stamp[p][0], col.stamp[p][1], '15px ' + SANS));
    idx++;
  }
});
graphic.push(text('a', 20, 16, '18px ' + SANS));
graphic.push(text('b', 480, 16, '18px ' + SANS));

const chart = echarts.init(document.getElementById('chart'), null, { renderer: 'canvas', width: PAGE_W, height: PAGE_H });
chart.setOption({
  animation: false,
  backgroundColor: '#fff',
  grid: grid,
  xAxis: xAxis,
  yAxis: yAxis,
  series: series,
  graphic: { elements: graphic }
});
</script>
</body>
</html>
